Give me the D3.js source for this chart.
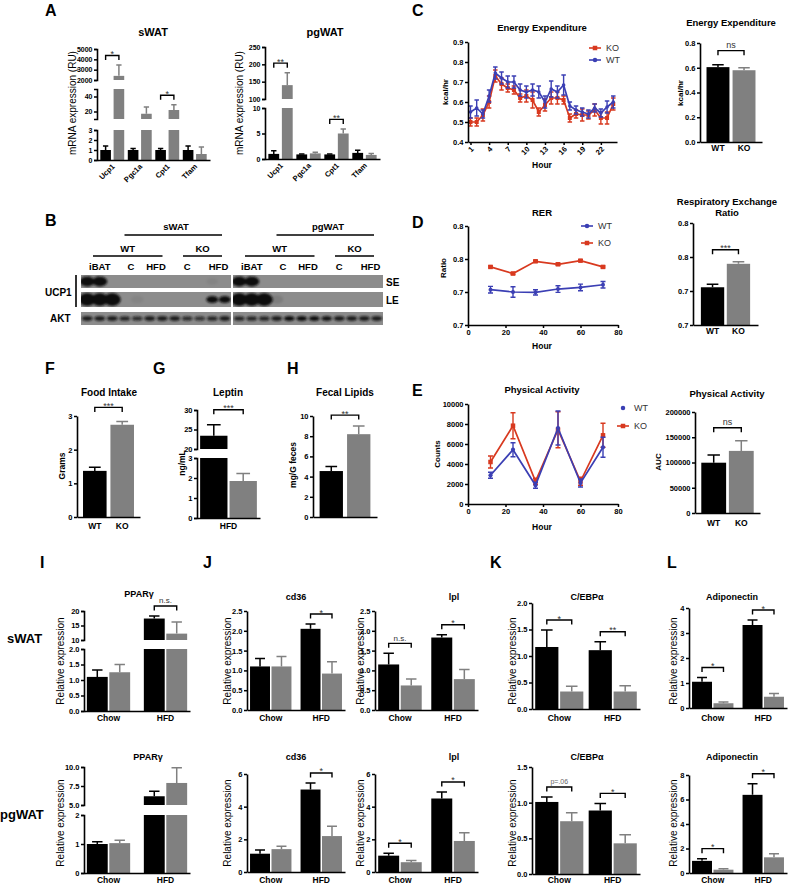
<!DOCTYPE html>
<html>
<head>
<meta charset="utf-8">
<script src="https://cdn.jsdelivr.net/npm/d3@7/dist/d3.min.js"></script>
<style>
html,body{margin:0;padding:0;background:#fff;}
svg{display:block;}
</style>
</head>
<body>
<svg id="fig" width="789" height="886"></svg>
<script>
// ================= DATA =================
// Panel A
const genesA = ["Ucp1","Pgc1a","Cpt1","Tfam"];
const sWATwt = [1.0, 1.0, 1.0, 1.0];
const sWATwtErr = [0.4, 0.15, 0.15, 0.4];
const sWATko = [2400, 17, 22, 0.6];
const sWATkoErr = [1050, 9, 7, 0.7];
const sWATsig = ["*", "", "*", ""];
const pgWATwt = [1.0, 0.9, 0.9, 1.2];
const pgWATwtErr = [0.6, 0.1, 0.1, 0.5];
const pgWATko = [140, 1.1, 5.0, 0.8];
const pgWATkoErr = [36, 0.2, 0.9, 0.3];
const pgWATsig = ["**", "", "**", ""];
const sWATticksLow = [0, 1, 2, 3], sWATticksMid = [20, 40], sWATticksHigh = [2000, 3000, 4000, 5000];
const pgWATticksLow = [0, 5, 10], pgWATticksHigh = [100, 150, 200, 250];

// Panel B (western blot band intensities, 12 lanes per half)
const laneGroupLabels = ["iBAT", "C", "HFD", "C", "HFD"];
const laneGroupFirst = [0, 3, 5, 7, 10];
const laneGroupLast = [2, 4, 6, 9, 11];
const seLeft  = [1, 1, 0, 0, 0, 0, 0, 0, 0, 0, 0.05, 0];
const leLeft  = [1, 1, 1, 0, 0.05, 0, 0, 0, 0, 0, 1, 0.9];
const aktLeft = [0.8, 0.8, 0.8, 0.75, 0.7, 0.8, 0.8, 0.8, 0.7, 0.65, 0.75, 0.8];
const seRight  = [1, 1, 0, 0, 0, 0, 0, 0, 0, 0, 0, 0];
const leRight  = [1, 1, 1, 0.1, 0, 0, 0, 0, 0, 0, 0, 0];
const aktRight = [0.75, 0.75, 0.75, 0.8, 0.95, 0.95, 0.9, 0.85, 0.8, 0.8, 0.8, 0.8];

// Panel C
const hoursC = [1,2,3,4,5,6,7,8,9,10,11,12,13,14,15,16,17,18,19,20,21,22,23,24];
const eeKO    = [0.50,0.50,0.535,0.60,0.73,0.69,0.67,0.66,0.62,0.63,0.61,0.55,0.585,0.62,0.62,0.61,0.52,0.54,0.535,0.535,0.56,0.52,0.52,0.59];
const eeKOErr = [0.02,0.02,0.03,0.03,0.03,0.03,0.02,0.02,0.02,0.03,0.04,0.02,0.03,0.03,0.03,0.02,0.02,0.02,0.03,0.02,0.03,0.03,0.03,0.03];
const eeWT    = [0.55,0.57,0.54,0.63,0.745,0.72,0.70,0.70,0.66,0.65,0.66,0.65,0.60,0.665,0.65,0.685,0.58,0.56,0.55,0.54,0.57,0.545,0.575,0.60];
const eeWTErr = [0.03,0.04,0.02,0.03,0.03,0.03,0.03,0.03,0.03,0.03,0.03,0.03,0.03,0.04,0.03,0.05,0.02,0.02,0.02,0.02,0.02,0.02,0.03,0.03];
const eeTicksX = [1,4,7,10,13,16,19,22];
const eeTicksY = [0.4,0.5,0.6,0.7,0.8,0.9];
const barCats = ["WT","KO"];
const eeBarVals = [0.605, 0.58];
const eeBarErr = [0.02, 0.02];

// Panel D
const rerHours = [12,24,36,48,60,72];
const rerWT    = [0.7035,0.700,0.6995,0.7045,0.707,0.711];
const rerWTErr = [0.005,0.008,0.004,0.005,0.005,0.005];
const rerKO    = [0.738,0.728,0.7465,0.742,0.7475,0.738];
const rerKOErr = [0.0015,0.0015,0.0015,0.0015,0.0015,0.0015];
const rerTicksY = [0.65,0.70,0.75,0.80];
const hourTicks = [0,20,40,60,80];
const rerBarVals = [0.7055, 0.740];
const rerBarErr = [0.0045, 0.003];

// Panel E
const paHours = [12,24,36,48,60,72];
const paWT    = [2870,5430,1870,7600,2100,5670];
const paWTErr = [300,700,300,1700,400,1000];
const paKO    = [4200,7830,2270,7430,2270,6870];
const paKOErr = [600,1300,300,1800,400,1200];
const paTicksY = [0,2000,4000,6000,8000,10000];
const paBarVals = [99600, 123000];
const paBarErr = [15400, 20000];
const paBarTicks = [0,50000,100000,150000,200000];

// Panels F, G, H
const foodVals = [1.37, 2.74], foodErr = [0.11, 0.10];
const leptinVals = [23.4, 1.85], leptinErr = [2.8, 0.38];
const fecalVals = [4.55, 8.2], fecalErr = [0.45, 0.8];

// Panels I-L
const dietGroups = ["Chow","HFD"];
const pparSwt = [1.1, 17.4], pparSwtErr = [0.22, 0.9], pparSko = [1.25, 12.2], pparSkoErr = [0.25, 4.0];
const pparPwt = [1.0, 6.15], pparPwtErr = [0.08, 0.65], pparPko = [1.03, 7.9], pparPkoErr = [0.1, 2.0];
const cd36Swt = [1.1, 2.05], cd36SwtErr = [0.2, 0.12], cd36Sko = [1.1, 0.92], cd36SkoErr = [0.25, 0.3];
const lplSwt = [1.15, 1.83], lplSwtErr = [0.28, 0.07], lplSko = [0.62, 0.78], lplSkoErr = [0.16, 0.24];
const cd36Pwt = [1.12, 5.05], cd36PwtErr = [0.22, 0.4], cd36Pko = [1.4, 2.2], cd36PkoErr = [0.18, 0.6];
const lplPwt = [1.0, 4.5], lplPwtErr = [0.15, 0.4], lplPko = [0.6, 1.9], lplPkoErr = [0.1, 0.5];
const cebpSwt = [1.17, 1.11], cebpSwtErr = [0.32, 0.16], cebpSko = [0.33, 0.33], cebpSkoErr = [0.1, 0.11];
const cebpPwt = [1.01, 0.89], cebpPwtErr = [0.07, 0.1], cebpPko = [0.74, 0.43], cebpPkoErr = [0.12, 0.12];
const adipoSwt = [1.05, 3.32], adipoSwtErr = [0.17, 0.2], adipoSko = [0.19, 0.45], adipoSkoErr = [0.05, 0.13];
const adipoPwt = [0.99, 6.38], adipoPwtErr = [0.18, 0.9], adipoPko = [0.27, 1.28], adipoPkoErr = [0.07, 0.3];
const pparSsig = ["", "n.s."], pparPsig = ["", ""];
const cd36Ssig = ["", "*"], lplSsig = ["n.s.", "*"], cd36Psig = ["", "*"], lplPsig = ["*", "*"];
const cebpSsig = ["*", "**"], cebpPsig = ["p=.06", "*"], adipoSsig = ["*", "*"], adipoPsig = ["*", "*"];

// ================= DRAWING =================
const FONT = '"Liberation Sans", Arial, Helvetica, sans-serif';
const BLK = "#000", GRY = "#808080", RED = "#d8391f", BLU = "#3b3fb4";
const svg = d3.select("#fig").attr("font-family", FONT);
const defs = svg.append("defs");
defs.append("filter").attr("id","blur").attr("x","-50%").attr("y","-50%").attr("width","200%").attr("height","200%")
  .append("feGaussianBlur").attr("stdDeviation", 0.9);

function text(x, y, s, o = {}) {
  const t = svg.append("text").attr("x", x).attr("y", y).text(s)
    .attr("font-size", o.fs ?? 9).attr("font-weight", o.fw ?? "bold")
    .attr("text-anchor", o.a ?? "middle").attr("fill", o.c ?? "#000");
  if (o.dy) t.attr("dy", o.dy);
  if (o.rot != null) t.attr("transform", `rotate(${o.rot},${x},${y})`);
  return t;
}
function ylabel(x, y, s, o = {}) { return text(x, y, s, Object.assign({}, o, {rot: -90, dy: "0.35em"})); }

function styleAx(g, o) {
  g.attr("font-family", FONT).attr("font-size", o.fs ?? 7.5).attr("font-weight", "bold");
  g.select(".domain").attr("stroke-width", o.sw ?? 1.6);
  g.selectAll(".tick line").attr("stroke-width", o.sw ?? 1.5);
  return g;
}
function axisLeft(scale, x, ticks, fmt, o = {}) {
  const g = svg.append("g").attr("transform", `translate(${x},0)`)
    .call(d3.axisLeft(scale).tickValues(ticks).tickFormat(fmt).tickSize(o.ts ?? 3).tickSizeOuter(o.outer ?? 0).tickPadding(o.pad ?? 1.5));
  return styleAx(g, o);
}
function axisBottom(scale, y, ticks, fmt, o = {}) {
  const ax = d3.axisBottom(scale).tickSize(o.ts ?? 3).tickSizeOuter(0).tickPadding(o.pad ?? 2);
  if (ticks) ax.tickValues(ticks);
  if (fmt) ax.tickFormat(fmt);
  const g = svg.append("g").attr("transform", `translate(0,${y})`).call(ax);
  return styleAx(g, o);
}
function bracket(xa, xb, y, label, o = {}) {
  const leg = o.leg ?? 4.5;
  svg.append("path").attr("d", `M${xa},${y + leg}V${y}H${xb}V${y + leg}`)
    .attr("fill", "none").attr("stroke", "#000").attr("stroke-width", 1.4);
  const star = /^\*+$/.test(label);
  text((xa + xb) / 2, y - (star ? -1.5 : 2.5), label, {fs: star ? 9 : (o.fs ?? 8), fw: "normal", c: o.c ?? "#333"});
}
function marker(x, y, m, col, s) {
  if (m === "sq") svg.append("rect").attr("x", x - s / 2).attr("y", y - s / 2).attr("width", s).attr("height", s).attr("fill", col);
  else svg.append("circle").attr("cx", x).attr("cy", y).attr("r", s / 2).attr("fill", col);
}
function lineSeries(xs, vals, errs, xS, yS, col, m, o = {}) {
  svg.append("path").datum(xs.map((x, i) => [x, vals[i]]))
    .attr("fill", "none").attr("stroke", col).attr("stroke-width", o.sw ?? 1.7)
    .attr("d", d3.line().x(d => xS(d[0])).y(d => yS(d[1])));
  const cw = o.cap ?? 5;
  xs.forEach((x, i) => {
    const cx = xS(x), y1 = yS(vals[i] - errs[i]), y2 = yS(vals[i] + errs[i]);
    svg.append("path").attr("d", `M${cx},${y1}V${y2}M${cx - cw / 2},${y1}H${cx + cw / 2}M${cx - cw / 2},${y2}H${cx + cw / 2}`)
      .attr("stroke", col).attr("stroke-width", 1.4).attr("fill", "none");
    marker(cx, yS(vals[i]), m, col, o.ms ?? 4);
  });
}
function legendItem(x, y, label, col, m, withLine) {
  if (withLine) svg.append("line").attr("x1", x).attr("x2", x + 12).attr("y1", y).attr("y2", y).attr("stroke", col).attr("stroke-width", 1.6);
  marker(x + 6, y, m, col, 4.5);
  text(x + 17, y + 3.3, label, {fs: 9, fw: "normal", a: "start", c: "#333"});
}

function groupedChart(c) {
  const outer = d3.scaleBand().domain(c.groups).range([c.x0, c.x1]).paddingInner(c.pi ?? 0.18).paddingOuter(c.po ?? 0.06);
  const nS = c.series.length;
  const inner = d3.scaleBand().domain(d3.range(nS)).range([0, outer.bandwidth()]).paddingInner(c.ipi ?? 0.07);
  const bw = inner.bandwidth();
  const segs = c.segs.map(s => Object.assign({}, s, {y: d3.scaleLinear().domain(s.dom).range(s.rng)}));
  const base = segs[0].rng[0];
  const segOf = v => segs.filter(s => v > s.dom[0]).pop() || segs[0];
  const tops = [];
  c.groups.forEach((gn, gi) => {
    tops[gi] = [];
    c.series.forEach((vals, si) => {
      const v = vals[gi], e = c.errs[si][gi], col = c.colors[si];
      const bx = outer(gn) + inner(si);
      segs.forEach(s => {
        if (v > s.dom[0]) {
          const yt = s.y(Math.min(v, s.dom[1])), yb = s.y(s.dom[0]);
          svg.append("rect").attr("x", bx).attr("y", yt).attr("width", bw).attr("height", Math.max(0, yb - yt)).attr("fill", col);
        }
      });
      const s = segOf(v);
      const yv = s.y(v), ye = s.y(Math.min(v + e, s.dom[1]));
      const cx = bx + bw / 2, cw = (c.capW ?? 0.5) * bw;
      svg.append("path").attr("d", `M${cx},${yv}V${ye}M${cx - cw / 2},${ye}H${cx + cw / 2}`)
        .attr("stroke", col).attr("stroke-width", 1.5).attr("fill", "none");
      tops[gi][si] = {cx, ye};
    });
  });
  segs.forEach(s => axisLeft(s.y, c.x0, s.ticks, typeof s.fmt === "string" ? d3.format(s.fmt) : d3.format("d"),
    {outer: segs.length > 1 ? 3 : 0, fs: c.tfs ?? 7.5}));
  axisBottom(outer, base, [], null, {ts: 0});
  if (c.sig) c.groups.forEach((gn, gi) => {
    const lab = c.sig[gi]; if (!lab) return;
    const t = tops[gi];
    const y = Math.min(t[0].ye, t[1].ye) - (c.sigGap ?? 10);
    bracket(t[0].cx, t[1].cx, y, lab, {fs: c.sigFs ?? 8, c: lab.startsWith("p") ? "#666" : "#333"});
  });
  const xfs = c.xfs ?? 8.5;
  if (c.xlab === "group") c.groups.forEach(gn => text(outer(gn) + outer.bandwidth() / 2, c.xLabY, gn, {fs: xfs}));
  if (c.xlab === "series") c.seriesNames.forEach((nm, si) => text(outer(c.groups[0]) + inner(si) + bw / 2, c.xLabY, nm, {fs: xfs}));
  if (c.xlab === "single") text(outer(c.groups[0]) + outer.bandwidth() / 2, c.xLabY, c.xLabText, {fs: xfs});
  if (c.xlab === "rot") c.groups.forEach(gn => {
    const cx = outer(gn) + outer.bandwidth() / 2 + 3;
    text(cx, base + 7, gn, {fs: 7.5, a: "end", rot: -45});
  });
  if (c.title) {
    const lines = Array.isArray(c.title) ? c.title : [c.title];
    lines.forEach((ln, i) => text(c.titleX ?? (c.x0 + c.x1) / 2, (c.titleY) + i * 11, ln, {fs: c.titleFs ?? 9}));
  }
  if (c.ylab) ylabel(c.ylabX, c.ylabY, c.ylab, {fs: c.ylabFs ?? 10, fw: c.ylabFw ?? "normal"});
}

// ---------- Panel letters ----------
[["A",45,16],["B",45,226],["C",412,16],["D",412,228],["E",412,396],["F",45,374],["G",153,374],["H",287,374],
 ["I",40,568],["J",203,568],["K",490,568],["L",667,568]].forEach(d => text(d[1], d[2], d[0], {fs: 16, a: "start"}));
text(7, 643, "sWAT", {fs: 13, a: "start"});
text(0, 819, "pgWAT", {fs: 13, a: "start"});

// ---------- Panel A ----------
groupedChart({x0: 97, x1: 210, groups: genesA, series: [sWATwt, sWATko], errs: [sWATwtErr, sWATkoErr], colors: [BLK, GRY],
  pi: 0.13, po: 0.12, ipi: 0.2,
  segs: [{dom: [0, 3], rng: [160, 130], ticks: sWATticksLow}, {dom: [10, 50], rng: [119, 89], ticks: sWATticksMid},
         {dom: [2000, 5000], rng: [80, 49], ticks: sWATticksHigh}],
  sig: sWATsig, sigGap: 9.5, xlab: "rot", tfs: 7, title: "sWAT", titleX: 153, titleY: 36, titleFs: 11,
  ylab: "mRNA expression (RU)", ylabX: 72, ylabY: 103});
groupedChart({x0: 265, x1: 380, groups: genesA, series: [pgWATwt, pgWATko], errs: [pgWATwtErr, pgWATkoErr], colors: [BLK, GRY],
  pi: 0.13, po: 0.12, ipi: 0.2,
  segs: [{dom: [0, 10], rng: [159, 108], ticks: pgWATticksLow}, {dom: [100, 250], rng: [99, 47], ticks: pgWATticksHigh}],
  sig: pgWATsig, sigGap: 9.5, xlab: "rot", tfs: 7, title: "pgWAT", titleX: 325, titleY: 36, titleFs: 11,
  ylab: "mRNA expression (RU)", ylabX: 239, ylabY: 103});

// ---------- Panel B (blot) ----------
(function () {
  const laneS = d3.scaleBand().domain(d3.range(12)).range([0, 150]);
  const panelX = [81, 233];
  const strips = [
    {y: 275, h: 13, data: [seLeft, seRight], rx: 7.5, ry: 5},
    {y: 292, h: 15, data: [leLeft, leRight], rx: 8.5, ry: 6.5},
    {y: 312, h: 13, data: [aktLeft, aktRight], rx: 5.3, ry: 2.2}
  ];
  strips.forEach((st, si) => {
    panelX.forEach((px, pi) => {
      const cid = `clip${si}_${pi}`;
      defs.append("clipPath").attr("id", cid).append("rect").attr("x", px).attr("y", st.y).attr("width", 150).attr("height", st.h);
      svg.append("rect").attr("x", px).attr("y", st.y).attr("width", 150).attr("height", st.h).attr("fill", "#8c8c8c");
      const g = svg.append("g").attr("clip-path", `url(#${cid})`);
      const gb = g.append("g").attr("filter", "url(#blur)");
      st.data[pi].forEach((v, li) => {
        if (v <= 0) return;
        const isAkt = si === 2;
        const small = li >= 9; // KO HFD lanes give compact bands
        gb.append("ellipse").attr("cx", px + laneS(li) + laneS.bandwidth() / 2).attr("cy", st.y + st.h / 2)
          .attr("rx", isAkt ? st.rx : (small ? 6 : st.rx * (0.75 + 0.25 * v)))
          .attr("ry", isAkt ? st.ry * (0.6 + 0.6 * v) : (small ? 3.6 : st.ry * (0.6 + 0.4 * v)))
          .attr("fill", "#111").attr("opacity", Math.min(1, v * 1.1));
      });
    });
  });
  panelX.forEach(px => {
    laneGroupLabels.forEach((lb, i) => {
      const cx = px + (laneS(laneGroupFirst[i]) + laneS(laneGroupLast[i]) + laneS.bandwidth()) / 2;
      text(cx, 270, lb, {fs: 9.5});
    });
    const l0 = px + laneS(0) + 12, l1 = px + laneS(6) + laneS.bandwidth() - 6;
    const k0 = px + laneS(8) + 2, k1 = px + laneS(11) + laneS.bandwidth() - 9;
    svg.append("line").attr("x1", l0).attr("x2", l1).attr("y1", 256).attr("y2", 256).attr("stroke", "#000").attr("stroke-width", 1.6);
    svg.append("line").attr("x1", k0).attr("x2", k1).attr("y1", 256).attr("y2", 256).attr("stroke", "#000").attr("stroke-width", 1.6);
    text((l0 + l1) / 2, 252, "WT", {fs: 9.5});
    text((k0 + k1) / 2, 252, "KO", {fs: 9.5});
    const s0 = px + laneS(3) + 6, s1 = k1;
    svg.append("line").attr("x1", s0).attr("x2", s1).attr("y1", 235).attr("y2", 235).attr("stroke", "#000").attr("stroke-width", 1.6);
  });
  text(176, 230, "sWAT", {fs: 9.5});
  text(328, 230, "pgWAT", {fs: 9.5});
  svg.append("line").attr("x1", 76).attr("x2", 76).attr("y1", 275).attr("y2", 307).attr("stroke", "#000").attr("stroke-width", 1.6);
  text(45, 296, "UCP1", {fs: 10, a: "start"});
  text(50, 322, "AKT", {fs: 10, a: "start"});
  text(386, 286, "SE", {fs: 10, a: "start"});
  text(386, 304, "LE", {fs: 10, a: "start"});
})();

// ---------- Panel C ----------
(function () {
  const xS = d3.scaleLinear().domain([0.6, 24.6]).range([468, 617]);
  const yS = d3.scaleLinear().domain([0.4, 0.9]).range([142, 42]);
  lineSeries(hoursC, eeKO, eeKOErr, xS, yS, RED, "sq", {ms: 4, cap: 4.5});
  lineSeries(hoursC, eeWT, eeWTErr, xS, yS, BLU, "ci", {ms: 3.6, cap: 4.5});
  axisLeft(yS, 468, eeTicksY, d3.format(".1f"), {fs: 7.5});
  const gx = axisBottom(xS, 142, eeTicksX, d3.format("d"), {fs: 7.5});
  gx.selectAll(".tick text").attr("transform", "rotate(-45)").attr("text-anchor", "end").attr("x", -3).attr("y", 5).attr("dy", "0.35em");
  text(542, 31, "Energy Expenditure", {fs: 9.5});
  text(542, 168, "Hour", {fs: 8.5});
  ylabel(445, 92, "kcal/hr", {fs: 8});
  legendItem(589, 48, "KO", RED, "sq", true);
  legendItem(589, 60, "WT", BLU, "ci", true);
})();
groupedChart({x0: 700, x1: 762, groups: ["all"], series: [[eeBarVals[0]], [eeBarVals[1]]], errs: [[eeBarErr[0]], [eeBarErr[1]]],
  colors: [BLK, GRY], pi: 0, po: 0.133, ipi: 0.12,
  segs: [{dom: [0, 0.8], rng: [142, 43], ticks: [0, 0.2, 0.4, 0.6, 0.8], fmt: ".1f"}],
  sig: ["ns"], sigGap: 14, sigFs: 9, xlab: "series", seriesNames: barCats, xLabY: 151,
  title: "Energy Expenditure", titleX: 731, titleY: 26, titleFs: 9.5, ylab: "kcal/hr", ylabX: 680, ylabY: 93, ylabFs: 8, ylabFw: "bold"});

// ---------- Panel D ----------
(function () {
  const xS = d3.scaleLinear().domain([0, 80]).range([468, 618]);
  const yS = d3.scaleLinear().domain([0.65, 0.80]).range([325, 226]);
  lineSeries(rerHours, rerKO, rerKOErr, xS, yS, RED, "sq", {ms: 4.5});
  lineSeries(rerHours, rerWT, rerWTErr, xS, yS, BLU, "ci", {ms: 4});
  axisLeft(yS, 468, rerTicksY, d3.format(".1f"), {fs: 7.5});
  axisBottom(xS, 325, hourTicks, d3.format("d"), {fs: 7.5});
  text(542, 216, "RER", {fs: 9.5});
  text(542, 349, "Hour", {fs: 8.5});
  ylabel(443, 268, "Ratio", {fs: 8});
  legendItem(581, 226, "WT", BLU, "ci", true);
  legendItem(581, 243, "KO", RED, "sq", true);
})();
groupedChart({x0: 693, x1: 758, groups: ["all"], series: [[rerBarVals[0]], [rerBarVals[1]]], errs: [[rerBarErr[0]], [rerBarErr[1]]],
  colors: [BLK, GRY], pi: 0, po: 0.16, ipi: 0.1,
  segs: [{dom: [0.65, 0.8], rng: [325, 223], ticks: rerTicksY, fmt: ".1f"}],
  sig: ["***"], sigGap: 12, xlab: "series", seriesNames: barCats, xLabY: 334,
  title: ["Respiratory Exchange", "Ratio"], titleX: 727, titleY: 205, titleFs: 9.5});

// ---------- Panel E ----------
(function () {
  const xS = d3.scaleLinear().domain([0, 80]).range([468, 618]);
  const yS = d3.scaleLinear().domain([0, 10000]).range([504, 404]);
  lineSeries(paHours, paKO, paKOErr, xS, yS, RED, "sq", {ms: 4.5});
  lineSeries(paHours, paWT, paWTErr, xS, yS, BLU, "ci", {ms: 4.2});
  axisLeft(yS, 468, paTicksY, d3.format("d"), {fs: 7.5});
  axisBottom(xS, 504, hourTicks, d3.format("d"), {fs: 7.5});
  text(542, 393, "Physical Activity", {fs: 9.5});
  text(542, 530, "Hour", {fs: 8.5});
  ylabel(437, 454, "Counts", {fs: 8});
  legendItem(617, 408, "WT", BLU, "ci", false);
  legendItem(617, 426, "KO", RED, "sq", true);
})();
groupedChart({x0: 695, x1: 760, groups: ["all"], series: [[paBarVals[0]], [paBarVals[1]]], errs: [[paBarErr[0]], [paBarErr[1]]],
  colors: [BLK, GRY], pi: 0, po: 0.12, ipi: 0.1,
  segs: [{dom: [0, 200000], rng: [513, 412], ticks: paBarTicks}],
  sig: ["ns"], sigGap: 13, sigFs: 9, xlab: "series", seriesNames: barCats, xLabY: 526,
  title: "Physical Activity", titleX: 727, titleY: 397, titleFs: 9.5, ylab: "AUC", ylabX: 658, ylabY: 462, ylabFs: 8, ylabFw: "bold"});

// ---------- Panels F, G, H ----------
groupedChart({x0: 77, x1: 140, groups: ["all"], series: [[foodVals[0]], [foodVals[1]]], errs: [[foodErr[0]], [foodErr[1]]],
  colors: [BLK, GRY], pi: 0, po: 0.118, ipi: 0.14,
  segs: [{dom: [0, 3], rng: [517, 416], ticks: [0, 1, 2, 3]}],
  sig: ["***"], sigGap: 14, xlab: "series", seriesNames: barCats, xLabY: 529,
  title: "Food Intake", titleX: 109, titleY: 396, titleFs: 10, ylab: "Grams", ylabX: 62, ylabY: 466, ylabFs: 8.5, ylabFw: "bold"});
groupedChart({x0: 197, x1: 260, groups: ["all"], series: [[leptinVals[0]], [leptinVals[1]]], errs: [[leptinErr[0]], [leptinErr[1]]],
  colors: [BLK, GRY], pi: 0, po: 0.055, ipi: 0.07,
  segs: [{dom: [0, 3], rng: [518, 458], ticks: [0, 1, 2, 3]}, {dom: [20, 30], rng: [449, 410], ticks: [20, 25, 30]}],
  sig: ["***"], sigGap: 15, xlab: "single", xLabText: "HFD", xLabY: 529,
  title: "Leptin", titleX: 228, titleY: 396, titleFs: 10, ylab: "ng/mL", ylabX: 182, ylabY: 463, ylabFs: 8.5, ylabFw: "bold"});
groupedChart({x0: 313, x1: 377, groups: ["all"], series: [[fecalVals[0]], [fecalVals[1]]], errs: [[fecalErr[0]], [fecalErr[1]]],
  colors: [BLK, GRY], pi: 0, po: 0.13, ipi: 0.15,
  segs: [{dom: [0, 10], rng: [517, 416], ticks: [0, 2, 4, 6, 8, 10]}],
  sig: ["**"], sigGap: 11, xlab: "none",
  title: "Fecal Lipids", titleX: 345, titleY: 396, titleFs: 10, ylab: "mg/G feces", ylabX: 293, ylabY: 465, ylabFs: 8.5, ylabFw: "bold"});

// ---------- Panels I - L ----------
function dietChart(x0, x1, wt, wtE, ko, koE, segs, sig, title, titleX, top, ylabX, extra) {
  groupedChart(Object.assign({x0, x1, groups: dietGroups, series: [wt, ko], errs: [wtE, koE], colors: [BLK, GRY],
    pi: 0.18, po: 0.06, ipi: 0.07, segs, sig, sigGap: 10, xlab: "group", xLabY: top ? 721 : 883,
    title, titleX, titleY: top ? 600 : 760, titleFs: 9, ylab: "Relative expression", ylabX, ylabY: top ? 661 : 823}, extra || {}));
}
dietChart(84, 190, pparSwt, pparSwtErr, pparSko, pparSkoErr,
  [{dom: [0, 2], rng: [711, 649], ticks: [0, 0.5, 1, 1.5, 2], fmt: ".1f"}, {dom: [10, 20], rng: [640, 611], ticks: [10, 15, 20]}],
  pparSsig, "PPARγ", 139, true, 60, {pi: 0.24, po: 0.05, titleY: 597});
dietChart(84, 190, pparPwt, pparPwtErr, pparPko, pparPkoErr,
  [{dom: [0, 2], rng: [873, 815], ticks: [0, 1, 2]}, {dom: [5, 10], rng: [805, 767], ticks: [5, 7.5, 10], fmt: ".1f"}],
  pparPsig, "PPARγ", 148, false, 60, {pi: 0.24, po: 0.05});
dietChart(247, 345, cd36Swt, cd36SwtErr, cd36Sko, cd36SkoErr,
  [{dom: [0, 2.5], rng: [710, 611], ticks: [0, 0.5, 1, 1.5, 2, 2.5], fmt: ".1f"}], cd36Ssig, "cd36", 296, true, 227);
dietChart(375, 478, lplSwt, lplSwtErr, lplSko, lplSkoErr,
  [{dom: [0, 2.5], rng: [710, 611], ticks: [0, 0.5, 1, 1.5, 2, 2.5], fmt: ".1f"}], lplSsig, "lpl", 454, true, 360);
dietChart(247, 345, cd36Pwt, cd36PwtErr, cd36Pko, cd36PkoErr,
  [{dom: [0, 6], rng: [872, 774], ticks: [0, 2, 4, 6]}], cd36Psig, "cd36", 296, false, 227);
dietChart(375, 478, lplPwt, lplPwtErr, lplPko, lplPkoErr,
  [{dom: [0, 6], rng: [872, 774], ticks: [0, 2, 4, 6]}], lplPsig, "lpl", 454, false, 360);
dietChart(532, 640, cebpSwt, cebpSwtErr, cebpSko, cebpSkoErr,
  [{dom: [0, 2], rng: [709, 603], ticks: [0, 0.5, 1, 1.5, 2], fmt: ".1f"}], cebpSsig, "C/EBPα", 587, true, 512, {pi: 0.1});
dietChart(532, 640, cebpPwt, cebpPwtErr, cebpPko, cebpPkoErr,
  [{dom: [0, 1.5], rng: [874, 767], ticks: [0, 0.5, 1, 1.5], fmt: ".1f"}], cebpPsig, "C/EBPα", 587, false, 512, {pi: 0.1, sigFs: 7});
dietChart(689, 787, adipoSwt, adipoSwtErr, adipoSko, adipoSkoErr,
  [{dom: [0, 4], rng: [708, 608], ticks: [0, 1, 2, 3, 4]}], adipoSsig, "Adiponectin", 732, true, 673);
dietChart(689, 787, adipoPwt, adipoPwtErr, adipoPko, adipoPkoErr,
  [{dom: [0, 8], rng: [873, 775], ticks: [0, 2, 4, 6, 8]}], adipoPsig, "Adiponectin", 732, false, 673);
</script>
</body>
</html>
